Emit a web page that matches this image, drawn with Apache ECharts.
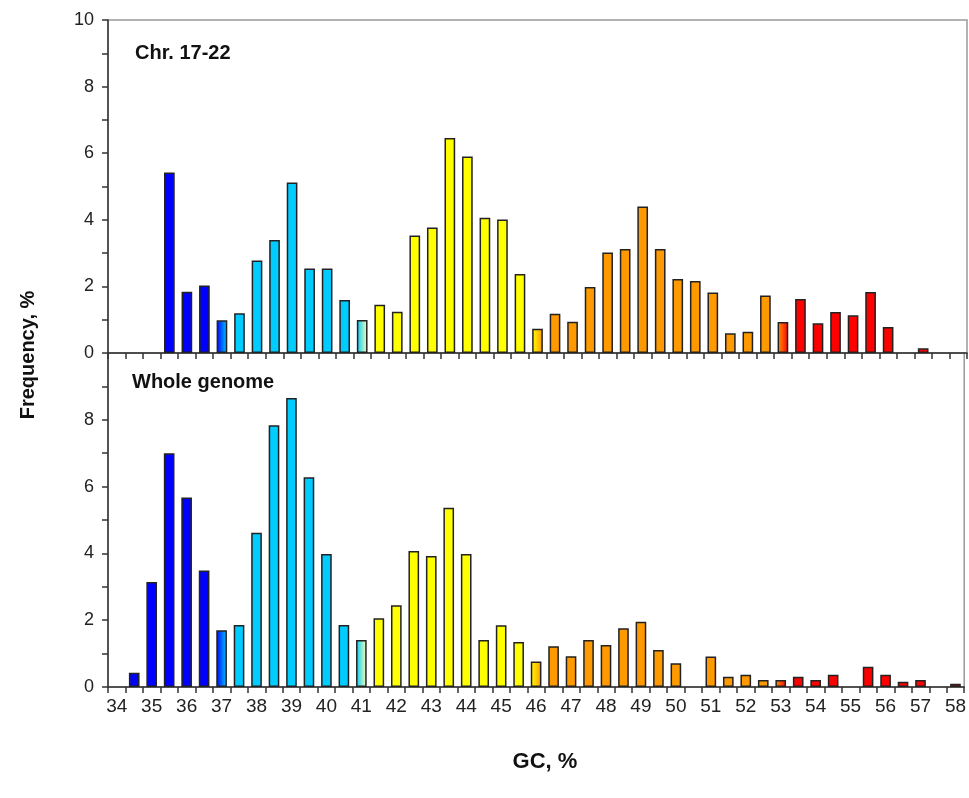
<!DOCTYPE html>
<html>
<head>
<meta charset="utf-8">
<script src="https://cdn.jsdelivr.net/npm/echarts@6/dist/echarts.min.js"></script>
<style>
html,body{margin:0;padding:0;background:#fff;}
#chart{width:969px;height:798px;}
</style>
</head>
<body>
<div id="chart"></div>
<script>
// GC content categories (%)
var categories = ['34','34.5','35','35.5','36','36.5','37','37.5','38','38.5','39','39.5','40','40.5','41','41.5','42','42.5','43','43.5','44','44.5','45','45.5','46','46.5','47','47.5','48','48.5','49','49.5','50','50.5','51','51.5','52','52.5','53','53.5','54','54.5','55','55.5','56','56.5','57','57.5','58'];

// Frequency, % — Chr. 17-22
var chrValues = [0,0,0,5.42,1.84,2.03,0.98,1.19,2.78,3.39,5.12,2.54,2.54,1.59,0.99,1.45,1.24,3.53,3.77,6.46,5.9,4.06,4.01,2.37,0.73,1.18,0.94,1.98,3.02,3.12,4.4,3.12,2.22,2.16,1.82,0.59,0.64,1.73,0.93,1.62,0.89,1.23,1.13,1.83,0.78,0,0.14,0,0];

// Frequency, % — Whole genome
var genomeValues = [0,0.43,3.14,7.0,5.67,3.49,1.70,1.86,4.62,7.84,8.65,6.28,3.98,1.86,1.41,2.06,2.45,4.07,3.92,5.37,3.98,1.41,1.85,1.35,0.76,1.22,0.92,1.41,1.26,1.76,1.95,1.11,0.71,0,0.91,0.31,0.37,0.21,0.21,0.31,0.21,0.37,0,0.61,0.37,0.16,0.21,0,0.1];

var yTicks = [0,2,4,6,8,10];
var xTickLabels = ['34','35','36','37','38','39','40','41','42','43','44','45','46','47','48','49','50','51','52','53','54','55','56','57','58'];

var BLUE='#0000FF', CYAN='#00CCFF', YELLOW='#FFFF00', ORANGE='#FF9900', RED='#FF0000';
function grad(a,b){
  return new echarts.graphic.LinearGradient(0,0,1,0,[{offset:0,color:a},{offset:1,color:b}]);
}
function colorFor(gc){
  gc = parseFloat(gc);
  if (gc <= 36.5) return BLUE;
  if (gc === 37) return grad(BLUE, CYAN);
  if (gc <= 40.5) return CYAN;
  if (gc === 41) return grad(CYAN, '#FFFFB0');
  if (gc <= 45.5) return YELLOW;
  if (gc === 46) return grad(YELLOW, ORANGE);
  if (gc <= 52.5) return ORANGE;
  if (gc === 53) return grad(ORANGE, RED);
  return RED;
}
function toData(vals){
  return vals.map(function(v,i){
    return {value: v === 0 ? '-' : v, itemStyle:{color: colorFor(categories[i])}};
  });
}

var chart = echarts.init(document.getElementById('chart'));
var FONT = 'Liberation Sans, Arial, sans-serif';
var axisLineStyle = {color:'#333', width:1.5};

function xAxis(gridIndex, showLabels){
  return {
    type:'category', gridIndex:gridIndex, data:categories, boundaryGap:true,
    axisLine:{show:true, lineStyle:axisLineStyle},
    axisTick:{show:true, interval:0, length:6, inside:false, lineStyle:{color:'#333', width:1.5}},
    axisLabel:{show:showLabels, interval:1, margin:10, fontFamily:FONT, fontSize:19, color:'#222',
      formatter:function(v){ return xTickLabels.indexOf(v) >= 0 ? v : ''; }},
    splitLine:{show:false}
  };
}
function yAxis(gridIndex, hideTop){
  return {
    type:'value', gridIndex:gridIndex, min:yTicks[0], max:yTicks[yTicks.length-1], interval:2,
    axisLine:{show:true, lineStyle:axisLineStyle},
    axisTick:{show:true, length:6, lineStyle:{color:'#333', width:1.5}},
    minorTick:{show:true, splitNumber:2, length:6, lineStyle:{color:'#333', width:1.5}},
    axisLabel:{margin:14, fontFamily:FONT, fontSize:18, color:'#222',
      formatter:function(v){ return (hideTop && v === 10) ? '' : String(v); }},
    splitLine:{show:false}
  };
}

var option = {
  backgroundColor:'#fff',
  animation:false,
  grid:[
    {left:108, top:20, width:859, height:333, show:true, borderColor:'#999', borderWidth:1.5, backgroundColor:'transparent'},
    {left:108, top:353, width:859, height:334, show:true, borderColor:'#999', borderWidth:1.5, backgroundColor:'transparent'}
  ],
  xAxis:[xAxis(0,false), xAxis(1,true)],
  yAxis:[yAxis(0,false), yAxis(1,true)],
  series:[
    {name:'Chr. 17-22', type:'bar', xAxisIndex:0, yAxisIndex:0, barWidth:'61%',
      itemStyle:{borderColor:'#222', borderWidth:1.5}, data:toData(chrValues)},
    {name:'Whole genome', type:'bar', xAxisIndex:1, yAxisIndex:1, barWidth:'61%',
      itemStyle:{borderColor:'#222', borderWidth:1.5}, data:toData(genomeValues)}
  ],
  graphic:[
    {type:'text', left:135, top:43, style:{text:'Chr. 17-22', font:'bold 20px '+FONT, fill:'#111'}},
    {type:'text', left:132, top:372, style:{text:'Whole genome', font:'bold 20px '+FONT, fill:'#111'}},
    {type:'text', x:28, y:355, rotation:Math.PI/2, style:{text:'Frequency, %', font:'bold 20px '+FONT, fill:'#111', align:'center', verticalAlign:'middle'}},
    {type:'text', x:545, y:762, style:{text:'GC, %', font:'bold 22px '+FONT, fill:'#111', align:'center', verticalAlign:'middle'}}
  ]
};
chart.setOption(option);
</script>
</body>
</html>
